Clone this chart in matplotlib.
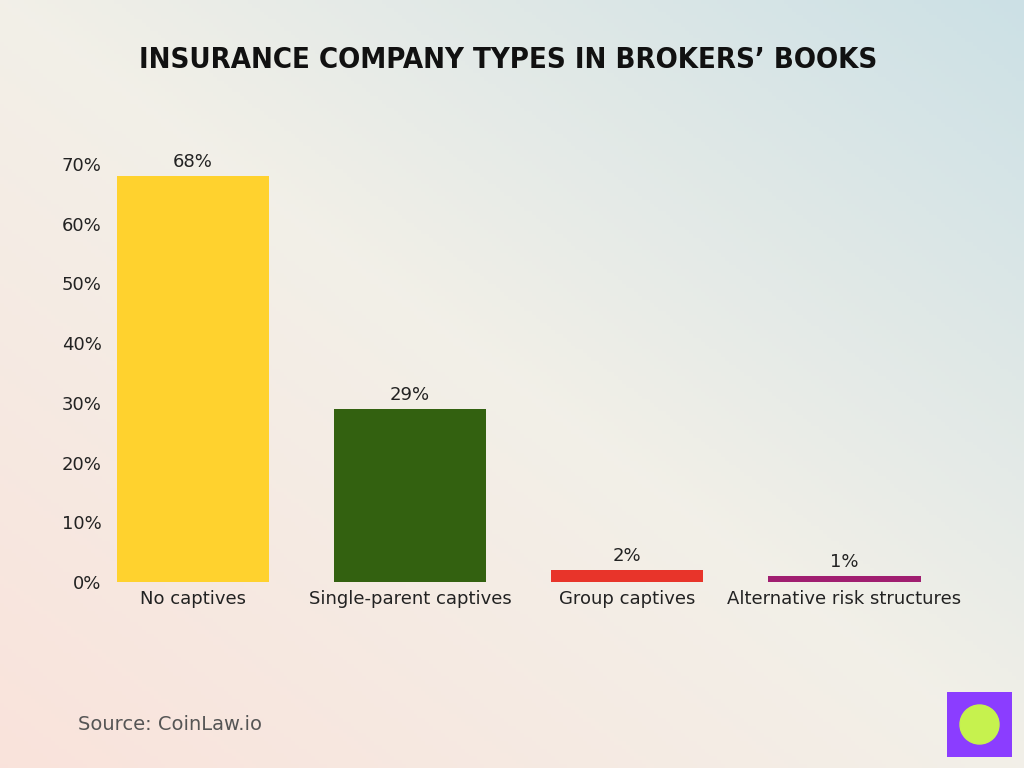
import numpy as np
import matplotlib.pyplot as plt
from matplotlib.patches import Rectangle, Circle

categories = ["No captives", "Single-parent captives", "Group captives", "Alternative risk structures"]
values = [68, 29, 2, 1]
bar_colors = ["#FFD22E", "#336110", "#E8342A", "#A01E70"]
yticks = [0, 10, 20, 30, 40, 50, 60, 70]

fig = plt.figure(figsize=(10.24, 7.68), dpi=100)

# soft background gradient: warm bottom-left, cool top-right
bg = fig.add_axes([0, 0, 1, 1], zorder=0)
h, w = 200, 260
yy, xx = np.mgrid[0:1:h*1j, 0:1:w*1j]
t = np.clip((xx * 0.6 + (1 - yy) * 0.6) / 1.2, 0, 1)
warm = np.array([0.98, 0.89, 0.86])
cool = np.array([0.80, 0.88, 0.90])
mid = np.array([0.95, 0.94, 0.91])
img = np.where(t[..., None] < 0.5,
               warm + (mid - warm) * (t[..., None] / 0.5),
               mid + (cool - mid) * ((t[..., None] - 0.5) / 0.5))
bg.imshow(img, extent=[0, 1, 0, 1], aspect="auto", origin="upper")
bg.axis("off")

ax = fig.add_axes([110 / 1024, 1 - 582 / 768, 854 / 1024, 418 / 768], zorder=1)
ax.patch.set_alpha(0)
x = np.arange(len(categories))
bars = ax.bar(x, values, width=0.7, color=bar_colors)
for xi, v in zip(x, values):
    ax.text(xi, v + 0.8, f"{v}%", ha="center", va="bottom", fontsize=13, color="#222222", clip_on=False)
ax.set_xlim(-0.38, 3.55)
ax.set_ylim(0, 70)
ax.set_yticks(yticks)
ax.set_yticklabels([f"{t}%" for t in yticks], fontsize=13, color="#222222")
ax.set_xticks(x)
ax.set_xticklabels(categories, fontsize=13, color="#222222")
ax.tick_params(length=0, pad=6)
for s in ax.spines.values():
    s.set_visible(False)

fig.text(0.496, 0.922, "INSURANCE COMPANY TYPES IN BROKERS’ BOOKS", ha="center", va="center",
         fontsize=21, fontweight="bold", fontstretch="condensed", color="#111111")
fig.text(78 / 1024, 1 - 724 / 768, "Source: CoinLaw.io", ha="left", va="center", fontsize=14, color="#555555")

# logo
lg = fig.add_axes([947 / 1024, 1 - 757 / 768, 65 / 1024, 65 / 768], zorder=2)
lg.add_patch(Rectangle((0, 0), 1, 1, color="#8B3DFF"))
lg.add_patch(Circle((0.5, 0.5), 0.3, color="#C6F24E"))
lg.set_xlim(0, 1)
lg.set_ylim(0, 1)
lg.axis("off")

fig.savefig("out.png", dpi=100)
